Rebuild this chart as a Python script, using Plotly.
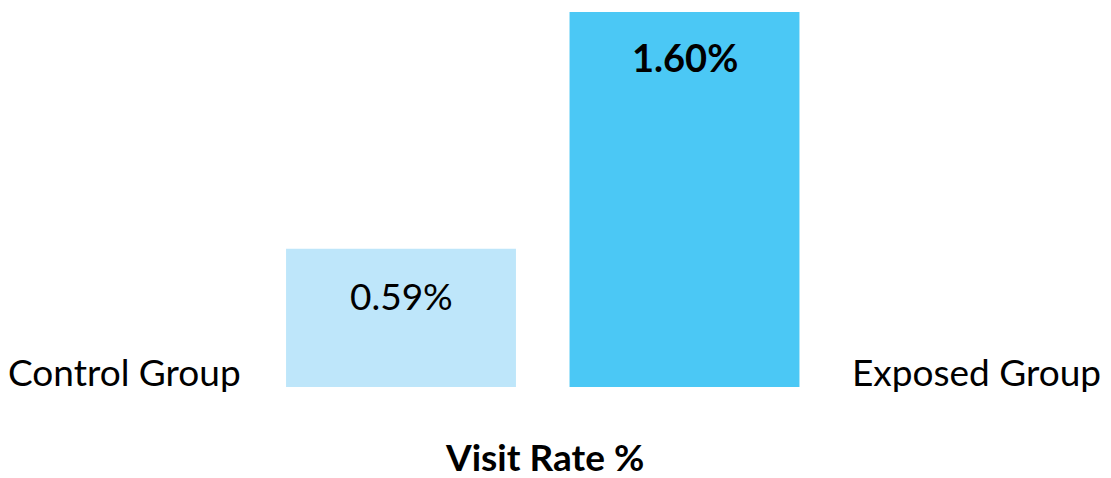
import plotly.graph_objects as go

categories = ["Control Group", "Exposed Group"]
values = [0.59, 1.60]
value_labels = ["0.59%", "1.60%"]
bar_colors = ["#BEE6FA", "#4BC8F5"]
label_weights = ["normal", "bold"]
axis_title = "Visit Rate %"

FONT = "Lato"
OFF = 8  # page body margin
W, H = 1111 - OFF, 478 - OFF
BASE = 387 - OFF  # bar baseline in figure px
PX_PER_UNIT = 375 / 1.60
STEP = 283.5

xpos = list(range(len(categories)))

def px(xp):
    return (xp - OFF) / W

def py(yp):
    return (BASE - (yp - OFF)) / BASE

fig = go.Figure()
fig.add_trace(go.Bar(
    x=xpos, y=values, width=0.811,
    marker=dict(color=bar_colors, line=dict(width=0)),
    hoverinfo="skip",
))

for i, (v, t, w) in enumerate(zip(values, value_labels, label_weights)):
    fig.add_annotation(
        x=xpos[i], y=v, xref="x", yref="y", text=t, showarrow=False,
        yanchor="top", yshift=-22 if w == "normal" else -20,
        font=dict(family=FONT, size=37 if w == "normal" else 38, color="#000000", weight=w),
    )

fig.add_annotation(
    x=px(243), y=py(371), xref="paper", yref="paper",
    text=categories[0], showarrow=False, xanchor="right", yanchor="middle",
    font=dict(family=FONT, size=37, color="#000000"),
)
fig.add_annotation(
    x=px(850), y=py(371), xref="paper", yref="paper",
    text=categories[1], showarrow=False, xanchor="left", yanchor="middle",
    font=dict(family=FONT, size=37, color="#000000"),
)
fig.add_annotation(
    x=px(544), y=py(456), xref="paper", yref="paper",
    text=axis_title, showarrow=False, xanchor="center", yanchor="middle",
    font=dict(family=FONT, size=37, color="#000000", weight="bold"),
)

cx0 = 401 - OFF
fig.update_layout(
    width=W, height=H,
    margin=dict(l=0, r=0, t=0, b=H - BASE),
    paper_bgcolor="white", plot_bgcolor="white",
    showlegend=False,
    xaxis=dict(range=[-cx0 / STEP, (W - cx0) / STEP], visible=False, fixedrange=True),
    yaxis=dict(range=[0, BASE / PX_PER_UNIT], visible=False, fixedrange=True),
)

fig.write_html("out.html", config={"displayModeBar": False})
